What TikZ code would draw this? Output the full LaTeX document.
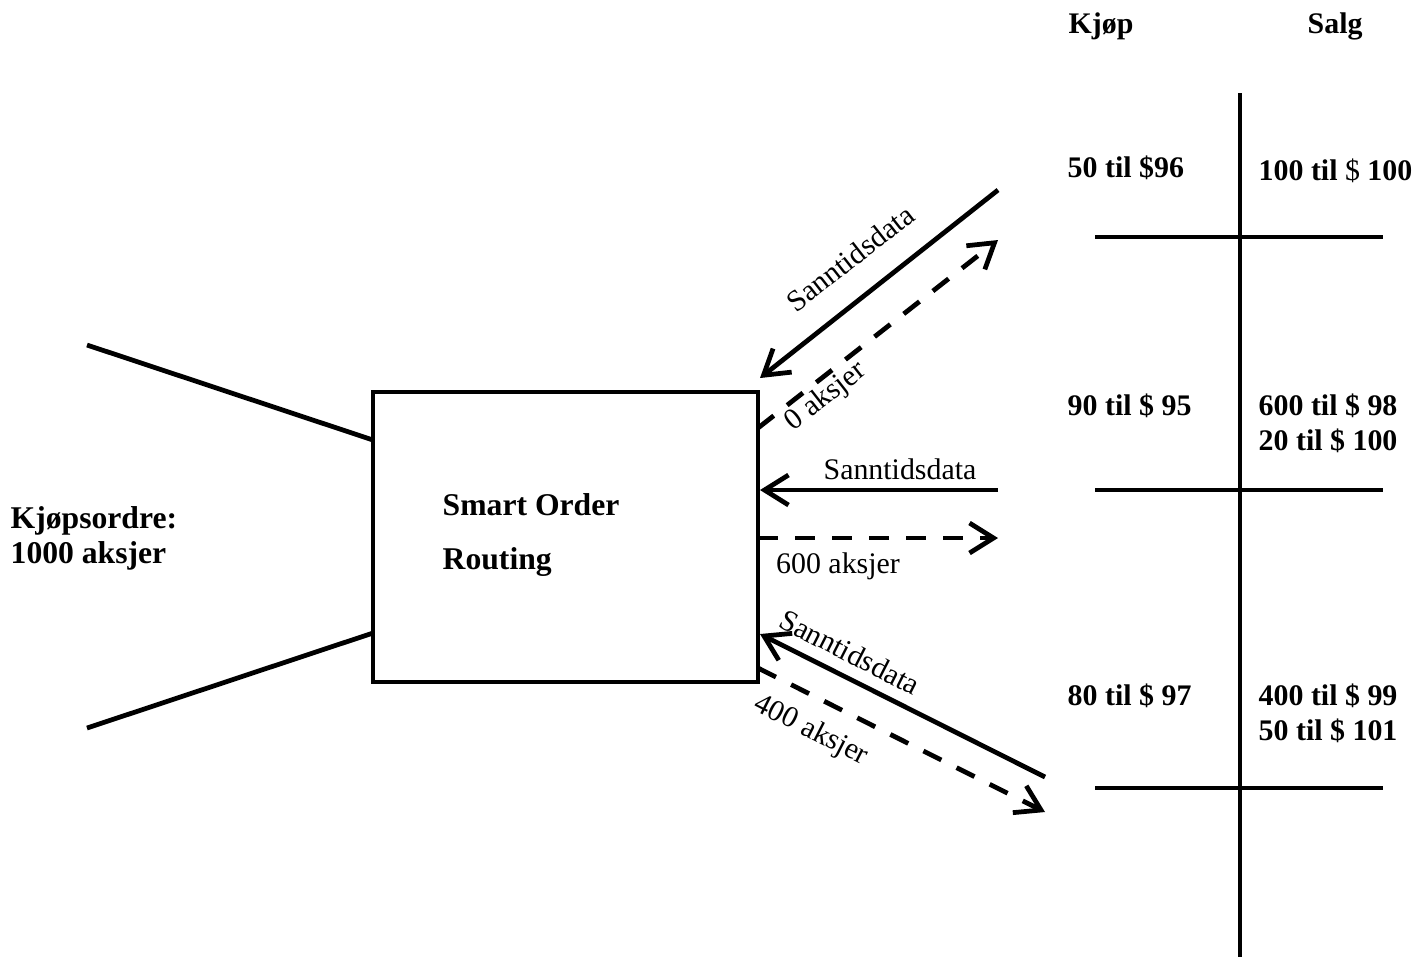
\documentclass[tikz,border=0pt]{standalone}
\usepackage{fontspec}
\setmainfont{Liberation Serif}
\usetikzlibrary{arrows.meta,positioning}

\begin{document}
\begin{tikzpicture}[x=0.01cm,y=-0.01cm,
        feed/.style = {line width=1.35pt, -{Straight Barb[length=2.4mm,width=3mm]}},
        order/.style = {feed, dash pattern=on 2mm off 1.7mm},
        bookline/.style = {line width=1.4pt},
        price/.style = {anchor=base west, inner sep=0pt, font=\fontsize{8.5}{10}\selectfont\bfseries},
        title/.style = {anchor=base west, inner sep=0pt, font=\fontsize{9}{10}\selectfont\bfseries},
        tag/.style = {inner sep=0pt, font=\fontsize{8.5}{10}\selectfont}]
        \useasboundingbox (0,0) rectangle (1413,956);

        \node[draw, line width=1pt, minimum width=3.85cm, minimum height=2.9cm, inner sep=0pt] (sor) at (565.5,537) {};
        \node[title] (sortext1) at (442,515) {Smart Order};
        \node[title] (sortext2) at (442,569) {Routing};
        \node[title] (buy1) at (10,528) {Kjøpsordre:};
        \node[title] (buy2) at (10,563) {1000 aksjer};

        \coordinate (funnel1) at (87,345);
        \coordinate (funnel1b) at (373,440);
        \coordinate (funnel2) at (87,728);
        \coordinate (funnel2b) at (373,633);
        \draw[line width=1.35pt] (funnel1) -- (funnel1b);
        \draw[line width=1.35pt] (funnel2) -- (funnel2b);

        \coordinate (booktop) at (1240,93);
        \coordinate (bookbot) at (1240,960);
        \coordinate (row1a) at (1095,237);
        \coordinate (row1b) at (1383,237);
        \coordinate (row2a) at (1095,490);
        \coordinate (row2b) at (1383,490);
        \coordinate (row3a) at (1095,788);
        \coordinate (row3b) at (1383,788);
        \draw[bookline] (booktop) -- (bookbot);
        \draw[bookline] (row1a) -- (row1b);
        \draw[bookline] (row2a) -- (row2b);
        \draw[bookline] (row3a) -- (row3b);

        \node[price] (kjop) at (1068,33) {Kjøp};
        \node[price] (salg) at (1307,33) {Salg};
        \node[price] (bid1) at (1067,177) {50 til \$96};
        \node[price] (ask1) at (1258,180) {100 til {\mdseries\$} 100};
        \node[price] (bid2) at (1067,415) {90 til \$ 95};
        \node[price] (ask2) at (1258,415) {600 til \$ 98};
        \node[price] (ask2b) at (1258,450) {20 til \$ 100};
        \node[price] (bid3) at (1067,705) {80 til \$ 97};
        \node[price] (ask3) at (1258,705) {400 til \$ 99};
        \node[price] (ask3b) at (1258,740) {50 til \$ 101};

        \coordinate (mkt1) at (998,190);
        \coordinate (mkt1in) at (760,378);
        \coordinate (ord1) at (758,428);
        \coordinate (ord1out) at (998,240);
        \coordinate (mkt2) at (998,490);
        \coordinate (mkt2in) at (760,490);
        \coordinate (ord2) at (758,538);
        \coordinate (ord2out) at (998,538);
        \coordinate (mkt3) at (1045,777);
        \coordinate (mkt3in) at (760,634);
        \coordinate (ord3) at (758,668);
        \coordinate (ord3out) at (1045,812);

        \draw[feed] (mkt1) -- (mkt1in);
        \draw[order] (ord1) -- (ord1out);
        \draw[feed] (mkt2) -- (mkt2in);
        \draw[order] (ord2) -- (ord2out);
        \draw[feed] (mkt3) -- (mkt3in);
        \draw[order] (ord3) -- (ord3out);

        \node[tag, rotate=38] (data1) at (850,258) {Sanntidsdata};
        \node[tag, rotate=38] (qty1) at (826,397) {0 aksjer};
        \node[tag] (data2) at (900,469) {Sanntidsdata};
        \node[tag] (qty2) at (838,566) {600 aksjer};
        \node[tag, rotate=-27] (data3) at (850,652) {Sanntidsdata};
        \node[tag, rotate=-27] (qty3) at (811,731) {400 aksjer};
\end{tikzpicture}
\end{document}
